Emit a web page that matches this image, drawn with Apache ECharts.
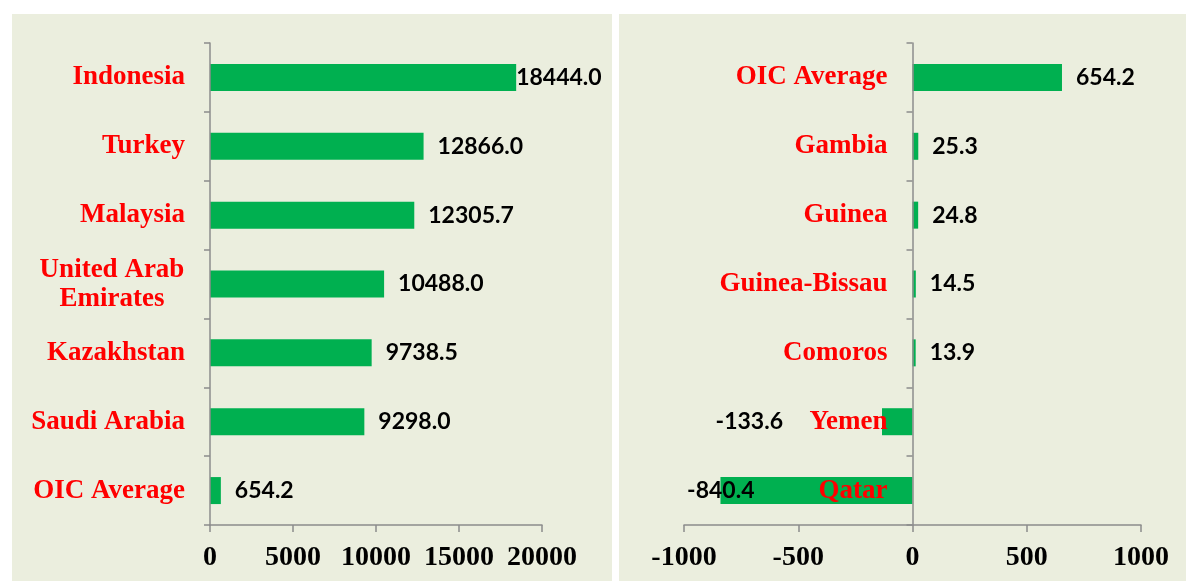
<!DOCTYPE html>
<html>
<head>
<meta charset="utf-8">
<script src="https://cdn.jsdelivr.net/npm/echarts@6/dist/echarts.min.js"></script>
<style>
  html, body { margin: 0; padding: 0; background: #ffffff; }
  #chart { width: 1186px; height: 581px; }
</style>
</head>
<body>
<div id="chart"></div>
<script>
// Données (de haut en bas)
const paysGauche = ['Indonesia', 'Turkey', 'Malaysia', 'United Arab Emirates', 'Kazakhstan', 'Saudi Arabia', 'OIC Average'];
const valeursGauche = [18444.0, 12866.0, 12305.7, 10488.0, 9738.5, 9298.0, 654.2];

const paysDroite = ['OIC Average', 'Gambia', 'Guinea', 'Guinea-Bissau', 'Comoros', 'Yemen', 'Qatar'];
const valeursDroite = [654.2, 25.3, 24.8, 14.5, 13.9, -133.6, -840.4];

const ticksGauche = [0, 20000, 5000];   // min, max, intervalle
const ticksDroite = [-1000, 1000, 500];

const vert = '#00B050';
const fond = '#EBEEDE';
const gris = '#8c8c8c';
const serif = 'Liberation Serif';

const chart = echarts.init(document.getElementById('chart'));

function axeCategorie(grid, data, decalage) {
    return {
        type: 'category',
        gridIndex: grid,
        data: data,
        inverse: true,
        offset: decalage,
        z: 5,
        axisLine: { onZero: false, lineStyle: { color: gris, width: 1.5 } },
        axisTick: { show: true, length: 6, lineStyle: { color: gris, width: 1.5 } },
        axisLabel: {
            color: '#ff0000',
            fontFamily: serif,
            fontWeight: 'bold',
            fontSize: 27,
            margin: 25,
            formatter: function (v) {
                if (v === 'United Arab Emirates') return '{w|United Arab}\n{w|Emirates}';
                return v;
            },
            rich: {
                w: { width: 146, align: 'center', color: '#ff0000', fontFamily: serif, fontWeight: 'bold', fontSize: 27, lineHeight: 29, padding: [2, 0, 0, 0] }
            }
        }
    };
}

function axeValeur(grid, t) {
    return {
        type: 'value',
        gridIndex: grid,
        min: t[0], max: t[1], interval: t[2],
        splitLine: { show: false },
        axisLine: { show: true, onZero: false, lineStyle: { color: gris, width: 1.5 } },
        axisTick: { show: true, length: 7, lineStyle: { color: gris, width: 1.5 } },
        axisLabel: {
            color: '#000', fontFamily: serif, fontWeight: 'bold', fontSize: 28, margin: 19,
            formatter: v => String(v)
        }
    };
}

const labelValeur = {
    show: true,
    position: 'right',
    distance: 14,
    color: '#000',
    fontFamily: 'Lato',
    fontWeight: 'bold',
    fontSize: 23,
    formatter: p => p.value.toFixed(1)
};

// Réglages des étiquettes particulières
const labelsSpeciaux = {
    'Indonesia': { distance: 0 },
    'Yemen': { position: 'left', distance: 0, offset: [-99, 0] },
    'Qatar': { position: 'left', distance: 0, offset: [34, 0] }
};

function donnees(pays, valeurs) {
    return valeurs.map((v, i) => {
        const special = labelsSpeciaux[pays[i]];
        return special ? { value: v, label: special } : v;
    });
}

// largeur de la grille droite : 1186 - 684 - 45 = 457 ; zéro au milieu
const decalageDroite = -457 * (0 - ticksDroite[0]) / (ticksDroite[1] - ticksDroite[0]);

const option = {
    backgroundColor: '#ffffff',
    animation: false,
    graphic: [
        { type: 'rect', shape: { x: 12, y: 14, width: 600, height: 567 }, style: { fill: fond }, z: -10 },
        { type: 'rect', shape: { x: 619, y: 14, width: 567, height: 567 }, style: { fill: fond }, z: -10 }
    ],
    grid: [
        { left: 210, right: 644, top: 43, bottom: 56 },
        { left: 684, right: 45, top: 43, bottom: 56 }
    ],
    xAxis: [axeValeur(0, ticksGauche), axeValeur(1, ticksDroite)],
    yAxis: [axeCategorie(0, paysGauche, 0), axeCategorie(1, paysDroite, decalageDroite)],
    series: [
        {
            type: 'bar',
            xAxisIndex: 0, yAxisIndex: 0,
            data: donnees(paysGauche, valeursGauche),
            barWidth: 27,
            itemStyle: { color: vert },
            label: labelValeur
        },
        {
            type: 'bar',
            xAxisIndex: 1, yAxisIndex: 1,
            data: donnees(paysDroite, valeursDroite),
            barWidth: 27,
            itemStyle: { color: vert },
            label: labelValeur
        }
    ]
};

chart.setOption(option);
</script>
</body>
</html>
